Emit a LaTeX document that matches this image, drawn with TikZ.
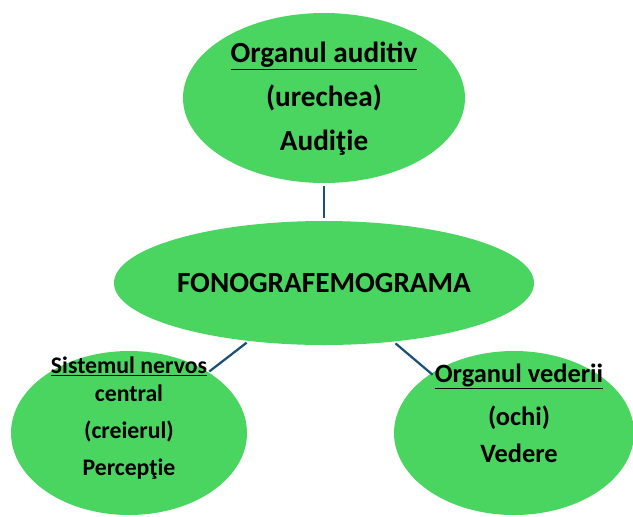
\documentclass[tikz,border=0pt]{standalone}
\usepackage{fontspec}
\setmainfont{Carlito}
\usepackage{tikz}
\usetikzlibrary{shapes.geometric}
\definecolor{blobgreen}{RGB}{74,212,96}
\definecolor{linkteal}{RGB}{28,80,118}
\tikzset{
  blob/.style={ellipse,fill=blobgreen,draw=none,inner sep=0pt},
  bigtext/.style={font=\fontsize{20.8}{31.3}\selectfont\bfseries,align=center,inner sep=0pt},
  midtext/.style={font=\fontsize{18.8}{26.3}\selectfont\bfseries,align=center,inner sep=0pt},
  smalltext/.style={font=\fontsize{16.9}{26}\selectfont\bfseries,align=center,inner sep=0pt},
  link/.style={draw=linkteal,line width=1.6pt,shorten <=1.8pt,shorten >=1.8pt},
}

\begin{document}
\begin{tikzpicture}
  \useasboundingbox (0,0) rectangle (15.825,-12.9);
  % ellipses
  \node[blob,minimum width=7.05cm,minimum height=4.25cm] (aud) at (8.1,-2.45) {};
  \node[blob,bigtext,minimum width=10.5cm,minimum height=3.1cm] (fono) at (8.1,-7.075) {FONOGRAFEMOGRAMA};
  \node[blob,minimum width=5.9cm,minimum height=4.1cm] (nerv) at (3.225,-10.825) {};
  \node[blob,minimum width=6cm,minimum height=4.1cm] (ved) at (12.85,-10.825) {};
  % top: hearing (base = last line)
  \node[bigtext,anchor=base] (audtitle) at (8.1,-1.55) {\underline{Organul auditiv}};
  \node[bigtext,anchor=base] (audtext) at (8.1,-3.75) {(urechea)\\Audiţie};
  % bottom left: brain
  \node[smalltext,anchor=base] (nervtitle) at (3.225,-9.325) {\underline{Sistemul nervos}};
  \node[smalltext,anchor=base] (nervtext) at (3.225,-11.875) {central\\(creierul)\\Percepţie};
  % bottom right: sight
  \node[midtext,anchor=base] (vedtitle) at (12.975,-9.55) {\underline{Organul vederii}};
  \node[midtext,anchor=base] (vedtext) at (12.975,-11.55) {(ochi)\\Vedere};
  % links
  \draw[link] (aud) -- (fono);
  \draw[link] (fono) -- (nervtitle.base east);
  \draw[link] (fono) -- (vedtitle.west);
\end{tikzpicture}
\end{document}
